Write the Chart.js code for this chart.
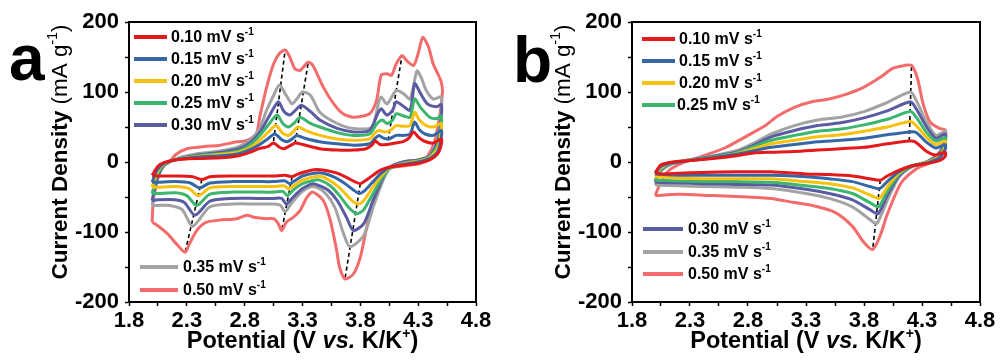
<!DOCTYPE html>
<html><head><meta charset="utf-8">
<script src="https://cdn.jsdelivr.net/npm/chart.js@4.4.1/dist/chart.umd.min.js"></script>
<style>
html,body{margin:0;padding:0;background:#fff;}
#wrap{position:relative;width:1002px;height:363px;overflow:hidden;}
.pane{position:absolute;top:0;width:501px;height:363px;}
</style></head>
<body><div id="wrap">
<div class="pane" style="left:0"><canvas id="ca" width="501" height="363"></canvas></div>
<div class="pane" style="left:501px"><canvas id="cb" width="501" height="363"></canvas></div>
</div>
<script>
// ---------- labels / categories ----------
const rates = ['0.10', '0.15', '0.20', '0.25', '0.30', '0.35', '0.50'];
const colors = ['#e3191c', '#3467a8', '#f7c10f', '#3cb66e', '#5a5ca3', '#a3a3a3', '#f36b6b'];
const xTickLabels = ['1.8', '2.3', '2.8', '3.3', '3.8', '4.3', '4.8'];
const yTickLabels = ['-200', '-100', '0', '100', '200'];

// ---------- panel a : potential (V) / current density (mA g-1), full CV loop ----------
const aV010 = [2.00,2.05,2.10,2.20,2.40,2.60,2.75,2.85,2.92,3.00,3.05,3.10,3.14,3.20,3.24,3.30,3.45,3.60,3.74,3.85,3.90,3.93,3.97,4.03,4.10,4.17,4.22,4.26,4.30,4.35,4.43,4.50,
               4.50,4.47,4.40,4.30,4.15,4.03,3.97,3.90,3.85,3.80,3.75,3.68,3.60,3.50,3.40,3.30,3.25,3.21,3.15,3.05,2.90,2.70,2.50,2.43,2.35,2.20,2.05,2.00];
const aI010 = [-19,-6,-1,3,5,6,9,14,19,22,27,21,19,24,27,25,19,17,17,19,24,30,25,25,27,29,34,43,36,30,27,33,
               25,12,3,-2,-5,-8,-12,-20,-26,-31,-28,-22,-16,-12,-11,-15,-18,-21,-19,-20,-20,-20,-21,-25,-21,-20,-20,-19];
const aV015 = [2.00,2.04,2.10,2.20,2.40,2.60,2.75,2.85,2.93,3.00,3.06,3.12,3.17,3.21,3.25,3.32,3.45,3.60,3.74,3.88,3.93,3.96,4.00,4.05,4.11,4.17,4.23,4.27,4.31,4.36,4.43,4.50,
               4.50,4.47,4.40,4.30,4.15,4.05,3.98,3.90,3.83,3.79,3.74,3.66,3.58,3.48,3.40,3.30,3.24,3.19,3.15,3.05,2.90,2.70,2.50,2.41,2.33,2.20,2.05,2.00];
const aI015 = [-29,-12,-2,3,7,9,12,18,25,33,40,32,29,33,38,34,29,26,24,26,34,38,34,33,38,38,40,57,46,40,38,45,
               35,15,5,0,-4,-8,-16,-30,-42,-45,-40,-30,-22,-16,-16,-20,-26,-31,-27,-28,-28,-28,-30,-37,-30,-28,-29,-29];
const aV020 = [2.00,2.04,2.10,2.20,2.40,2.60,2.75,2.85,2.93,3.00,3.07,3.13,3.18,3.22,3.26,3.34,3.45,3.60,3.74,3.88,3.93,3.96,4.01,4.06,4.11,4.17,4.23,4.27,4.31,4.37,4.43,4.50,
               4.50,4.47,4.40,4.30,4.15,4.05,3.98,3.90,3.83,3.78,3.72,3.64,3.56,3.47,3.40,3.30,3.23,3.18,3.14,3.05,2.90,2.70,2.50,2.40,2.32,2.20,2.05,2.00];
const aI020 = [-36,-16,-3,3,8,11,14,21,31,42,52,41,38,43,50,44,38,33,31,33,42,45,43,45,52,51,52,71,60,52,50,55,
               45,20,6,1,-3,-9,-20,-38,-55,-60,-54,-40,-29,-21,-21,-26,-33,-38,-34,-35,-35,-35,-37,-48,-38,-35,-36,-36];
const aV025 = [2.00,2.04,2.10,2.20,2.40,2.60,2.75,2.85,2.93,3.00,3.08,3.13,3.18,3.23,3.28,3.36,3.45,3.60,3.74,3.88,3.94,3.99,4.03,4.08,4.11,4.17,4.23,4.27,4.32,4.40,4.46,4.50,
               4.50,4.47,4.40,4.30,4.15,4.05,3.98,3.90,3.83,3.77,3.70,3.62,3.54,3.45,3.40,3.30,3.22,3.17,3.13,3.05,2.90,2.70,2.50,2.385,2.30,2.20,2.05,2.00];
const aI025 = [-45,-20,-4,3,9,12,16,25,38,52,67,55,50,56,64,56,50,42,38,40,54,60,55,60,69,66,64,90,78,64,62,66,
               55,25,7,2,-3,-10,-25,-48,-68,-74,-65,-48,-34,-26,-26,-31,-40,-48,-42,-43,-43,-43,-46,-62,-48,-44,-45,-45];
const aV030 = [2.00,2.04,2.10,2.20,2.40,2.60,2.75,2.85,2.93,3.00,3.09,3.14,3.19,3.24,3.29,3.37,3.45,3.60,3.74,3.88,3.95,3.98,4.03,4.08,4.11,4.16,4.23,4.27,4.32,4.38,4.46,4.50,
               4.50,4.47,4.40,4.30,4.17,4.06,4.00,3.91,3.83,3.74,3.68,3.60,3.52,3.45,3.39,3.30,3.22,3.16,3.12,3.05,2.90,2.70,2.50,2.37,2.28,2.20,2.05,2.00];
const aI030 = [-55,-25,-5,3,10,14,19,28,42,62,86,72,67,74,81,72,60,48,43,45,69,76,67,74,86,81,74,112,98,83,79,82,
               65,30,8,3,0,-7,-21,-55,-88,-98,-79,-55,-40,-34,-31,-38,-50,-60,-52,-52,-52,-52,-56,-76,-58,-54,-54,-55];
const aV035 = [2.00,2.04,2.10,2.20,2.40,2.60,2.75,2.85,2.93,2.99,3.05,3.10,3.16,3.21,3.25,3.30,3.37,3.45,3.60,3.74,3.90,3.955,3.98,4.03,4.11,4.17,4.23,4.29,4.33,4.37,4.43,4.50,
               4.50,4.47,4.40,4.30,4.17,4.06,4.00,3.91,3.83,3.71,3.65,3.58,3.50,3.42,3.36,3.28,3.20,3.15,3.11,3.05,2.90,2.70,2.50,2.35,2.26,2.15,2.05,2.00];
const aI035 = [-62,-28,-6,4,12,16,22,32,48,74,95,110,95,83,90,100,95,71,55,48,50,83,93,83,102,98,90,130,119,102,90,93,
               75,35,9,3,0,-8,-25,-65,-105,-121,-100,-65,-45,-36,-36,-45,-60,-71,-62,-60,-60,-60,-64,-92,-68,-62,-62,-62];
const aV050 = [2.00,2.01,2.04,2.08,2.15,2.20,2.30,2.45,2.59,2.70,2.82,2.90,2.93,2.99,3.05,3.10,3.15,3.19,3.235,3.28,3.32,3.35,3.39,3.48,3.57,3.65,3.74,3.88,3.94,3.98,4.03,4.07,4.11,4.16,4.20,4.26,4.30,4.34,4.39,4.43,4.47,4.50,
               4.51,4.48,4.44,4.38,4.32,4.20,4.03,3.97,3.91,3.855,3.80,3.74,3.667,3.62,3.595,3.54,3.48,3.39,3.34,3.28,3.22,3.16,3.12,3.09,3.05,2.99,2.88,2.82,2.73,2.59,2.47,2.385,2.32,2.285,2.21,2.13,2.04,2.00];
const aI050 = [-86,-55,-31,-7,0,10,19,22,24,28,31,40,64,107,140,155,160,150,133,131,138,143,138,107,83,69,64,69,88,124,126,124,140,152,145,138,155,178,164,140,126,114,
               100,60,28,8,-2,-5,-10,-26,-55,-93,-136,-160,-167,-150,-126,-83,-55,-43,-50,-69,-79,-86,-98,-88,-81,-81,-79,-76,-81,-83,-86,-98,-118,-129,-117,-102,-90,-86];
// peak-shift guide lines (start/end potential and current)
const aGuideV = [[3.05,3.15],[3.235,3.35],[4.04,4.16],[2.43,2.285],[3.21,3.12],[3.80,3.667]];
const aGuideI = [[30,160],[26,143],[31,152],[-25,-129],[-21,-98],[-31,-167]];

// ---------- panel b ----------
const bV010 = [2.00,2.05,2.15,2.30,2.50,2.70,2.85,3.00,3.20,3.40,3.60,3.80,4.00,4.19,4.24,4.34,4.42,4.50,
               4.50,4.45,4.35,4.20,4.10,4.00,3.94,3.85,3.70,3.50,3.30,3.00,2.70,2.40,2.20,2.05,2.00];
const bI010 = [-15,-4,0,2,5,9,13,14,15,17,19,21,26,30,29,15,10,14,
               8,2,-2,-6,-12,-20,-26,-24,-20,-18,-17,-14,-14,-15,-16,-17,-15];
const bV015 = [2.00,2.05,2.15,2.30,2.50,2.70,2.85,3.00,3.20,3.40,3.60,3.80,4.00,4.20,4.25,4.34,4.42,4.50,
               4.50,4.45,4.35,4.20,4.10,4.00,3.935,3.85,3.70,3.50,3.30,3.00,2.70,2.40,2.20,2.00];
const bI015 = [-17,-6,-1,2,6,11,16,21,25,29,31,34,39,43,42,28,20,25,
               18,6,-1,-6,-14,-28,-38,-35,-28,-24,-21,-19,-19,-19,-19,-17];
const bV020 = [2.00,2.05,2.15,2.30,2.50,2.70,2.85,3.00,3.20,3.40,3.60,3.80,4.00,4.20,4.25,4.34,4.42,4.50,
               4.50,4.45,4.35,4.20,4.10,4.00,3.93,3.85,3.70,3.50,3.30,3.00,2.70,2.40,2.20,2.00];
const bI020 = [-21,-8,-1,2,6,12,19,26,31,36,39,44,50,58,52,35,25,30,
               22,8,0,-6,-16,-36,-52,-47,-37,-31,-28,-24,-24,-24,-23,-21];
const bV025 = [2.00,2.05,2.15,2.30,2.50,2.70,2.85,3.00,3.20,3.40,3.60,3.80,4.00,4.20,4.25,4.34,4.42,4.50,
               4.50,4.45,4.35,4.20,4.10,4.00,3.925,3.85,3.70,3.50,3.30,3.00,2.70,2.40,2.20,2.00];
const bI025 = [-26,-10,-1,3,7,13,22,31,38,44,47,53,61,72,64,42,30,35,
               26,10,0,-7,-18,-42,-64,-58,-45,-38,-34,-29,-28,-28,-27,-26];
const bV030 = [2.00,2.05,2.15,2.30,2.50,2.70,2.85,3.00,3.20,3.40,3.60,3.80,4.00,4.20,4.25,4.34,4.42,4.50,
               4.50,4.45,4.35,4.20,4.10,4.00,3.92,3.85,3.70,3.50,3.30,3.00,2.70,2.40,2.20,2.00];
const bI030 = [-29,-11,-2,3,8,14,24,36,45,52,56,63,73,86,76,50,34,40,
               30,12,1,-7,-20,-48,-74,-68,-54,-45,-39,-33,-32,-31,-30,-29];
const bV035 = [2.00,2.05,2.15,2.30,2.50,2.70,2.85,3.00,3.20,3.40,3.60,3.80,4.00,4.20,4.25,4.34,4.42,4.50,
               4.50,4.45,4.35,4.20,4.10,4.00,3.91,3.85,3.70,3.50,3.30,3.00,2.70,2.40,2.20,2.00];
const bI035 = [-33,-13,-2,3,9,16,27,40,52,60,64,72,85,100,88,57,38,44,
               34,14,1,-8,-22,-55,-88,-82,-64,-52,-45,-38,-36,-35,-34,-33];
const bV050 = [2.00,2.03,2.10,2.21,2.40,2.60,2.80,2.95,3.05,3.20,3.35,3.50,3.65,3.80,3.95,4.05,4.15,4.21,4.26,4.31,4.37,4.45,4.50,
               4.50,4.45,4.38,4.25,4.12,4.00,3.94,3.875,3.80,3.70,3.55,3.35,3.20,3.00,2.80,2.50,2.20,2.00];
const bI050 = [-48,-36,-15,-3,8,20,38,52,65,78,86,90,97,107,122,134,138,138,120,83,57,48,46,
               30,12,0,-10,-30,-75,-105,-125,-115,-92,-72,-62,-58,-52,-50,-48,-46,-48];
const bGuideV = [[4.19,4.21],[3.94,3.875]];
const bGuideI = [[30,138],[-26,-125]];

// ---------- drawing ----------
const FF = '"Liberation Sans", Arial, Helvetica, sans-serif';

function drawRuns(ctx, runs, x, y, align) {
  ctx.textAlign = 'left';
  let total = 0;
  runs.forEach(r => { ctx.font = r.f; r.w = ctx.measureText(r.t).width; total += r.w; });
  let cx = align === 'center' ? x - total / 2 : x;
  runs.forEach(r => { ctx.font = r.f; ctx.fillText(r.t, cx, y + (r.dy || 0)); cx += r.w; });
}

const panelDeco = {
  id: 'panelDeco',
  afterDraw(chart, args, o) {
    const ctx = chart.ctx, ca = chart.chartArea;
    ctx.save();
    ctx.strokeStyle = '#000'; ctx.lineWidth = 2;
    ctx.strokeRect(ca.left, ca.top, ca.right - ca.left, ca.bottom - ca.top);
    ctx.fillStyle = '#000';
    ctx.font = 'bold 64px ' + FF; ctx.textBaseline = 'alphabetic'; ctx.textAlign = 'left';
    ctx.fillText(o.letter, o.letterX, o.letterY);
    // y title
    ctx.save();
    ctx.translate(o.yTitleX, (ca.top + ca.bottom) / 2 + o.yTitleDy);
    ctx.rotate(-Math.PI / 2);
    ctx.textBaseline = 'middle';
    drawRuns(ctx, [
      {t: 'Current Density ', f: 'bold 22.5px ' + FF},
      {t: '(mA g', f: '22.5px ' + FF},
      {t: '-1', f: '14px ' + FF, dy: -8},
      {t: ')', f: '22.5px ' + FF}
    ], 0, 0, 'center');
    ctx.restore();
    // x title
    ctx.textBaseline = 'alphabetic';
    drawRuns(ctx, [
      {t: 'Potential (V ', f: 'bold 23.5px ' + FF},
      {t: 'vs.', f: 'italic bold 23.5px ' + FF},
      {t: ' K/K', f: 'bold 23.5px ' + FF},
      {t: '+', f: 'bold 14px ' + FF, dy: -10},
      {t: ')', f: 'bold 23.5px ' + FF}
    ], (ca.left + ca.right) / 2, o.xTitleY, 'center');
    // legend
    chart.data.datasets.forEach((ds, i) => {
      const p = o.legend[i];
      if (!p) return;
      ctx.strokeStyle = ds.borderColor; ctx.lineWidth = 4; ctx.lineCap = 'butt';
      ctx.beginPath(); ctx.moveTo(p.x1, p.y); ctx.lineTo(p.x2, p.y); ctx.stroke();
      ctx.fillStyle = '#000'; ctx.textBaseline = 'middle';
      drawRuns(ctx, [
        {t: ds.label + ' mV s', f: 'bold 16px ' + FF},
        {t: '-1', f: 'bold 10px ' + FF, dy: -6}
      ], p.tx, p.y + 1, 'left');
    });
    ctx.restore();
  }
};

function makeChart(id, Vs, Is, gV, gI, deco, geo) {
  const datasets = Vs.map((V, k) => ({
    label: rates[k],
    data: V.map((v, i) => ({x: v, y: Is[k][i]})),
    showLine: true, borderColor: colors[k], backgroundColor: colors[k],
    borderWidth: 3, pointRadius: 0, tension: 0.25, fill: false
  }));
  gV.forEach((v, k) => datasets.push({
    label: '', data: v.map((x, i) => ({x: x, y: gI[k][i]})),
    showLine: true, borderColor: '#000', borderWidth: 1.6, borderDash: [4, 3],
    pointRadius: 0, tension: 0
  }));
  const tickFont = {family: '"Liberation Sans", Arial, sans-serif', size: 22, weight: 'bold'};
  return new Chart(document.getElementById(id), {
    type: 'scatter',
    data: {datasets},
    options: {
      responsive: false, animation: false, devicePixelRatio: 1,
      layout: {padding: {left: 0, right: geo.padRight, top: 22, bottom: 0}},
      plugins: {legend: {display: false}, tooltip: {enabled: false}, panelDeco: deco},
      scales: {
        x: {
          type: 'linear', min: 1.8, max: 4.8,
          afterFit: s => { s.height = 363 - 302; },
          ticks: {stepSize: 0.25, autoSkip: false, maxRotation: 0, color: '#000', font: tickFont, padding: 2,
                  callback: (v, i) => i % 2 === 0 ? xTickLabels[i / 2] : ''},
          grid: {drawOnChartArea: false, drawTicks: true, tickLength: 4, tickWidth: 1.5, tickColor: '#000'},
          border: {color: '#000', width: 2}
        },
        y: {
          type: 'linear', min: -200, max: 200,
          afterFit: s => { s.width = geo.left; },
          ticks: {stepSize: 50, autoSkip: false, color: '#000', font: tickFont, padding: 6,
                  callback: (v, i) => i % 2 === 0 ? yTickLabels[i / 2] : ''},
          grid: {drawOnChartArea: false, drawTicks: true, tickLength: 4, tickWidth: 1.5, tickColor: '#000'},
          border: {color: '#000', width: 2}
        }
      }
    },
    plugins: [panelDeco]
  });
}

makeChart('ca',
  [aV010, aV015, aV020, aV025, aV030, aV035, aV050],
  [aI010, aI015, aI020, aI025, aI030, aI035, aI050],
  aGuideV, aGuideI,
  {letter: 'a', letterX: 9, letterY: 80, yTitleX: 61, yTitleDy: -10, xTitleY: 348,
   legend: [
     {x1: 134, x2: 167, tx: 171, y: 37}, {x1: 134, x2: 167, tx: 171, y: 59},
     {x1: 134, x2: 167, tx: 171, y: 81}, {x1: 134, x2: 167, tx: 171, y: 103},
     {x1: 134, x2: 167, tx: 171, y: 125},
     {x1: 140, x2: 178, tx: 183, y: 267}, {x1: 140, x2: 178, tx: 183, y: 290}]},
  {left: 129, padRight: 25});

makeChart('cb',
  [bV010, bV015, bV020, bV025, bV030, bV035, bV050],
  [bI010, bI015, bI020, bI025, bI030, bI035, bI050],
  bGuideV, bGuideI,
  {letter: 'b', letterX: 12, letterY: 82, yTitleX: 63, yTitleDy: -10, xTitleY: 348,
   legend: [
     {x1: 141, x2: 174, tx: 178, y: 39}, {x1: 141, x2: 174, tx: 178, y: 61},
     {x1: 141, x2: 174, tx: 178, y: 83}, {x1: 141, x2: 174, tx: 176, y: 105},
     {x1: 142, x2: 182, tx: 187, y: 229}, {x1: 142, x2: 182, tx: 187, y: 252},
     {x1: 142, x2: 182, tx: 187, y: 274}]},
  {left: 131, padRight: 22});
</script>
</body></html>
